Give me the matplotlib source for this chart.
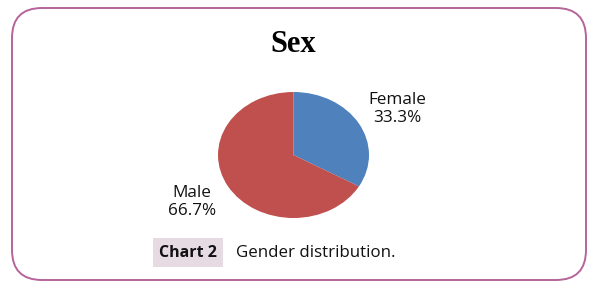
import matplotlib.pyplot as plt
from matplotlib.patches import FancyBboxPatch, Rectangle

# data
labels = ['Female', 'Male']
shares = [33.3, 66.7]
colors = ['#4f81bd', '#c0504d']

W, H = 602, 287
fig = plt.figure(figsize=(W / 100, H / 100), dpi=100)

# frame with rounded corners
bg = fig.add_axes([0, 0, 1, 1])
bg.set_xlim(0, W)
bg.set_ylim(H, 0)
bg.axis('off')
bg.add_patch(FancyBboxPatch((12 + 30, 8 + 30), 574 - 60, 272 - 60,
                            boxstyle='round,pad=30', fc='white', ec='#b5649a', lw=1.4))

# title
bg.text(293, 45, 'Sex', ha='center', va='center', fontsize=22, fontweight='bold',
        family='Liberation Serif', color='black')

# caption
bg.add_patch(Rectangle((153, 238), 70, 29, fc='#e6dbe3', ec='none'))
bg.text(159, 253, 'Chart 2', ha='left', va='center', fontsize=11.5, fontweight='bold',
        family='Open Sans', color='#111111')
bg.text(236, 253, 'Gender distribution.', ha='left', va='center', fontsize=12.2,
        family='Open Sans', color='#111111')

# pie (elliptical, as in the source)
x0, x1, y0, y1 = 218, 369, 92, 218
ax = fig.add_axes([x0 / W, 1 - y1 / H, (x1 - x0) / W, (y1 - y0) / H])
wedges, _ = ax.pie(shares, colors=colors, startangle=90, counterclock=False)
ax.set_aspect('auto')
ax.set_xlim(-1, 1)
ax.set_ylim(-1, 1)
ax.axis('off')

# labels
label_pos = {'Female': (1.38, 0.73), 'Male': (-1.35, -0.75)}
for name, val in zip(labels, shares):
    lx, ly = label_pos[name]
    ax.text(lx, ly, f'{name}\n{val:.1f}%', ha='center', va='center', fontsize=12.3,
            family='Open Sans', color='#111111', linespacing=1.15, clip_on=False)

fig.savefig('out.png', dpi=100)
